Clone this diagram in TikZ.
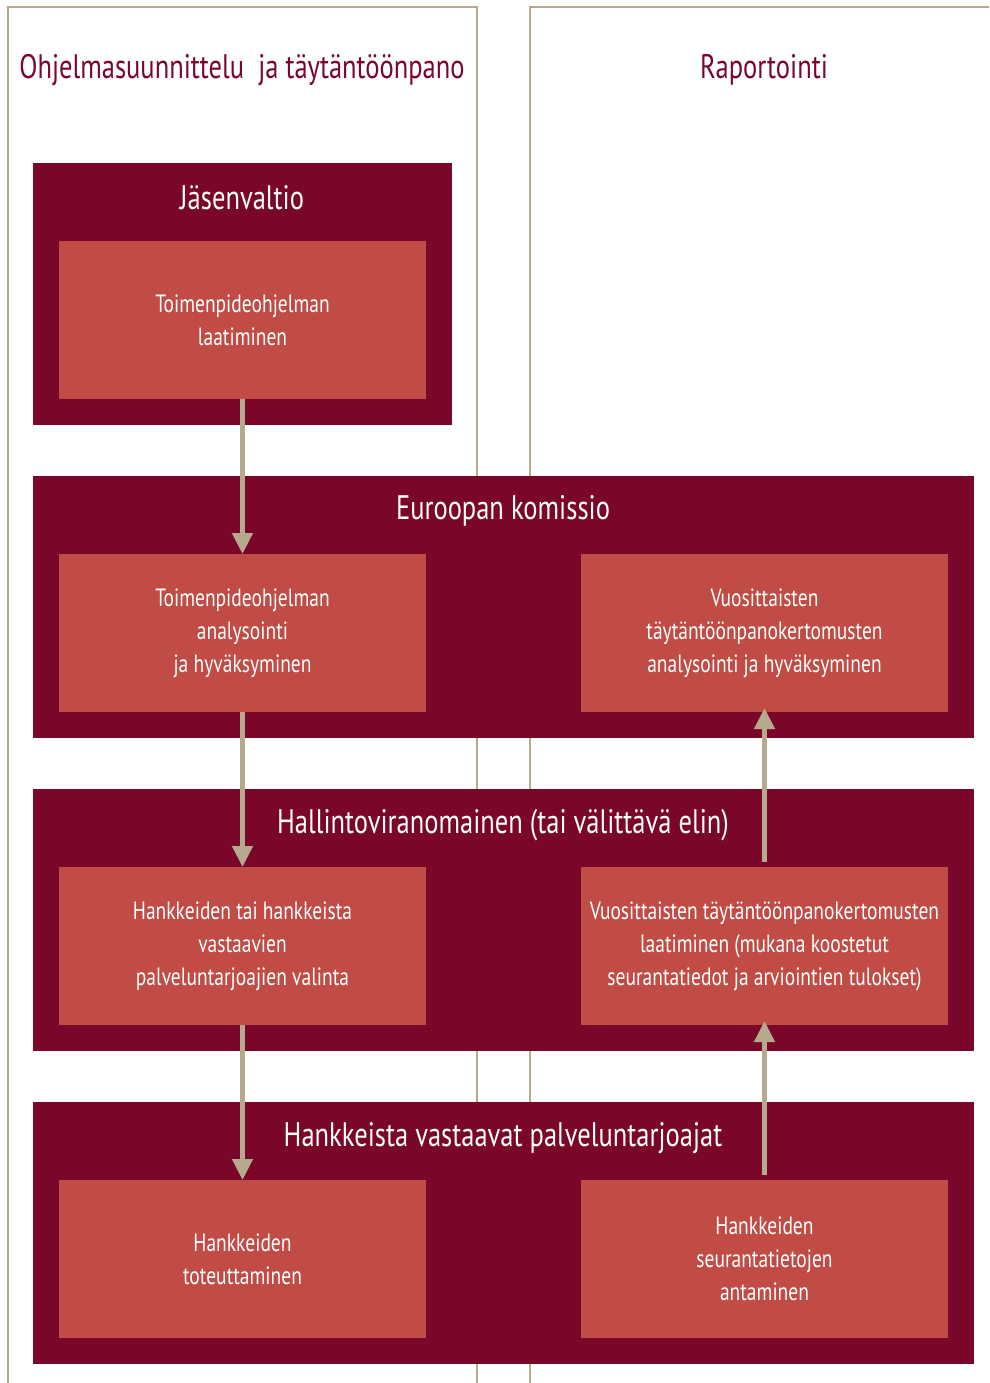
\documentclass[tikz,border=0pt]{standalone}
\usepackage{fontspec}
\setmainfont{PT Sans}[FakeStretch=0.78]
\usepackage{tikz}
\usetikzlibrary{arrows.meta}

\definecolor{viini}{HTML}{7A0629}
\definecolor{tiili}{HTML}{C04C45}
\definecolor{harmaa}{HTML}{B5AA8E}

\begin{document}
\begin{tikzpicture}[x=1pt,y=-1pt,
	every node/.style={inner sep=0pt, outer sep=0pt},
	ulko/.style={fill=viini, anchor=north west},
	sisa/.style={fill=tiili, anchor=north west, minimum width=367pt, minimum height=158pt},
	teksti/.style={text=white, align=center, font=\fontsize{25}{33}\selectfont},
	otsikko/.style={text=white, font=\fontsize{34}{40}\selectfont},
	sarake/.style={text=viini, font=\fontsize{34}{40}\selectfont},
	viiva/.style={draw=harmaa, line width=2pt},
	nuoli/.style={draw=harmaa, line width=4.5pt, -{Triangle[width=20pt,length=21pt]}}]

	\useasboundingbox (0,0) rectangle (989,1383);

	% sarakkeet
	\draw[viiva] (8,1383) |- (477,7) -- (477,1383);
	\draw[viiva] (530,1383) |- (989,7);
	\node[sarake] (ohj) at (242,70) {Ohjelmasuunnittelu\ \ ja täytäntöönpano};
	\node[sarake] (rap) at (764,70) {Raportointi};

	% Jäsenvaltio
	\node[ulko, minimum width=419pt, minimum height=262pt] (jv) at (33,163) {};
	\node[otsikko] at (242,198) {Jäsenvaltio};
	\node[sisa] (tpl) at (59,241) {};
	\node[teksti] at (tpl.center) {Toimenpideohjelman\\laatiminen};

	% Euroopan komissio
	\node[ulko, minimum width=941pt, minimum height=262pt] (ek) at (33,476) {};
	\node[otsikko] at (503,511) {Euroopan komissio};
	\node[sisa] (tpa) at (59,554) {};
	\node[teksti] at (tpa.center) {Toimenpideohjelman\\analysointi\\ja hyväksyminen};
	\node[sisa] (vta) at (581,554) {};
	\node[teksti] at (vta.center) {Vuosittaisten\\täytäntöönpanokertomusten\\analysointi ja hyväksyminen};

	% Hallintoviranomainen
	\node[ulko, minimum width=941pt, minimum height=262pt] (hv) at (33,789) {};
	\node[otsikko] at (503,825) {Hallintoviranomainen (tai välittävä elin)};
	\node[sisa] (hva) at (59,867) {};
	\node[teksti] at (hva.center) {Hankkeiden tai hankkeista\\vastaavien\\palveluntarjoajien valinta};
	\node[sisa] (vtl) at (581,867) {};
	\node[teksti] at (vtl.center) {Vuosittaisten täytäntöönpanokertomusten\\laatiminen (mukana koostetut\\seurantatiedot ja arviointien tulokset)};

	% Hankkeista vastaavat palveluntarjoajat
	\node[ulko, minimum width=941pt, minimum height=262pt] (hp) at (33,1102) {};
	\node[otsikko] at (503,1138) {Hankkeista vastaavat palveluntarjoajat};
	\node[sisa] (hto) at (59,1180) {};
	\node[teksti] at (hto.center) {Hankkeiden\\toteuttaminen};
	\node[sisa] (hsa) at (581,1180) {};
	\node[teksti] at (hsa.center) {Hankkeiden\\seurantatietojen\\antaminen};

	% nuolet
	\draw[nuoli] (tpl.south) -- (tpa.north);
	\draw[nuoli] (tpa.south) -- (hva.north);
	\draw[nuoli] (hva.south) -- (hto.north);
	\draw[nuoli, shorten <=5pt] (vtl.north) -- ([yshift=4pt]vta.south);
	\draw[nuoli, shorten <=5pt] (hsa.north) -- ([yshift=4pt]vtl.south);
\end{tikzpicture}
\end{document}
